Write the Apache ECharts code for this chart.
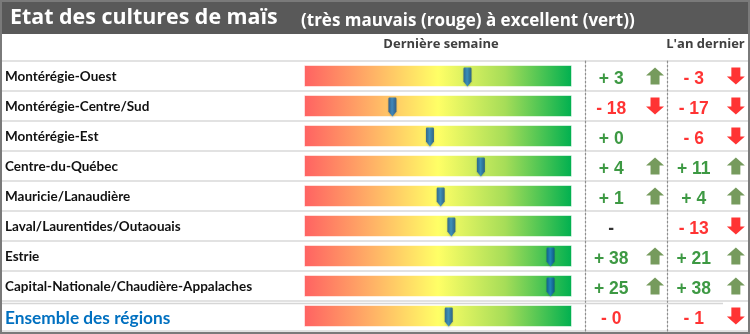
<!DOCTYPE html>
<html>
<head>
<meta charset="utf-8">
<script src="https://cdn.jsdelivr.net/npm/echarts@6/dist/echarts.min.js"></script>
<style>
  html, body { margin: 0; padding: 0; background: #ffffff; }
  #chart { width: 750px; height: 334px; }
</style>
</head>
<body>
<div id="chart"></div>
<script>
// Regions, top to bottom; the last row is the provincial total.
const regions = [
  'Montérégie-Ouest',
  'Montérégie-Centre/Sud',
  'Montérégie-Est',
  'Centre-du-Québec',
  'Mauricie/Lanaudière',
  'Laval/Laurentides/Outaouais',
  'Estrie',
  'Capital-Nationale/Chaudière-Appalaches',
  'Ensemble des régions'
];

// Crop condition index on a 0 (very poor) to 100 (excellent) scale.
const conditionIndex = [61, 33, 47, 66, 51, 55, 92, 92, 54];
const scaleMin = 0;
const scaleMax = 100;

// Change versus last week, and versus the same week last year.
const weekChange = ['+ 3', '- 18', '+ 0', '+ 4', '+ 1', '-', '+ 38', '+ 25', '- 0'];
const weekTrend  = ['up', 'down', '', 'up', 'up', '', 'up', 'up', ''];
const yearChange = ['- 3', '- 17', '- 6', '+ 11', '+ 4', '- 13', '+ 21', '+ 38', '- 1'];
const yearTrend  = ['down', 'down', 'down', 'up', 'up', 'down', 'up', 'up', 'down'];

const LABEL_FONT = 'Lato, "Open Sans", sans-serif';
const HEAD_FONT = '"Open Sans", Lato, sans-serif';
const NUM_FONT = '"Liberation Sans", Arial, sans-serif';
const GREEN_TEXT = '#0c7f14';
const RED_TEXT = '#ff0000';
const ARROW_UP = '#548235';
const ARROW_DOWN = '#ff0000';

const GRID_TOP = 61;
const GRID_HEIGHT = 270;

const ARROW_PATH = 'path://M9,0 L18,8 L13.5,8 L13.5,17 L4.5,17 L4.5,8 L0,8 Z';
const PIN_PATH = 'path://M1,0 L7,0 Q8,0 8,1.2 L8,14 L4,19 L0,14 L0,1.2 Q0,0 1,0 Z';

function changeColor(s) {
  if (s.trim() === '-') return '#000000';
  return s.charAt(0) === '+' ? GREEN_TEXT : RED_TEXT;
}

function categoryAxis(gridIndex, extra) {
  return Object.assign({
    gridIndex: gridIndex,
    type: 'category',
    data: regions,
    inverse: true,
    axisLine: { show: false },
    axisTick: { show: false },
    axisLabel: { show: false },
    splitLine: { show: false }
  }, extra || {});
}

function unitAxis(gridIndex, extra) {
  return Object.assign({
    gridIndex: gridIndex,
    type: 'value',
    min: 0,
    max: 1,
    axisLine: { show: false },
    axisTick: { show: false },
    axisLabel: { show: false },
    splitLine: { show: false }
  }, extra || {});
}

const dottedAxisLine = {
  show: true,
  lineStyle: { color: '#8f8f8f', width: 1.2, type: [2, 2] }
};

function textSeries(axisIndex, xPos, labels) {
  return {
    type: 'scatter',
    xAxisIndex: axisIndex,
    yAxisIndex: axisIndex,
    symbolSize: 1,
    itemStyle: { color: 'rgba(0,0,0,0)' },
    silent: true,
    data: labels.map((s, i) => ({
      value: [xPos, i],
      label: { color: changeColor(s) }
    })),
    label: {
      show: true,
      position: 'inside',
      offset: [0, 3],
      fontFamily: NUM_FONT,
      fontWeight: 'bold',
      fontSize: 17.5,
      formatter: (p) => labels[p.dataIndex]
    }
  };
}

function arrowSeries(axisIndex, xPos, trends) {
  const data = [];
  trends.forEach((t, i) => {
    if (!t) return;
    data.push({
      value: [xPos, i],
      symbolRotate: t === 'up' ? 0 : 180,
      itemStyle: { color: t === 'up' ? ARROW_UP : ARROW_DOWN }
    });
  });
  return {
    type: 'scatter',
    xAxisIndex: axisIndex,
    yAxisIndex: axisIndex,
    symbol: ARROW_PATH,
    symbolSize: [18, 17],
    silent: true,
    data: data
  };
}

const chart = echarts.init(document.getElementById('chart'), null, { renderer: 'canvas' });

chart.setOption({
  animation: false,
  backgroundColor: '#ffffff',
  title: [
    {
      text: 'Etat des cultures de maïs',
      left: 5,
      top: 2,
      textStyle: { color: '#ffffff', fontFamily: HEAD_FONT, fontWeight: 'bold', fontSize: 21.4 }
    },
    {
      text: '(très mauvais (rouge) à excellent (vert))',
      left: 296,
      top: 8,
      textStyle: { color: '#ffffff', fontFamily: HEAD_FONT, fontWeight: 'bold', fontSize: 17 }
    }
  ],
  graphic: [
    { type: 'rect', z: -10, shape: { x: 0, y: 0, width: 750, height: 34 }, style: { fill: '#595959' } },
    { type: 'line', z: 5, shape: { x1: 2, y1: 303.5, x2: 723, y2: 303.5 }, style: { stroke: '#d6d6d6', lineWidth: 1.5 } },
    { type: 'rect', z: 100, shape: { x: 1, y: 1, width: 748, height: 332 }, style: { fill: null, stroke: '#7a7a7a', lineWidth: 2 } }
  ],
  grid: [
    { left: 2, right: 2, top: GRID_TOP, height: GRID_HEIGHT },
    { left: 304, width: 268, top: GRID_TOP, height: GRID_HEIGHT },
    { left: 585, width: 82, top: GRID_TOP, height: GRID_HEIGHT },
    { left: 667, width: 81, top: GRID_TOP, height: GRID_HEIGHT }
  ],
  xAxis: [
    unitAxis(0),
    unitAxis(1, {
      min: scaleMin,
      max: scaleMax,
      position: 'top',
      name: 'Dernière semaine',
      nameLocation: 'middle',
      nameGap: 10,
      nameTextStyle: { color: '#404040', fontFamily: HEAD_FONT, fontWeight: 'bold', fontSize: 13, padding: [0, 0, 0, 6] }
    }),
    unitAxis(2),
    unitAxis(3, {
      position: 'top',
      name: "L'an dernier",
      nameLocation: 'middle',
      nameGap: 10,
      nameTextStyle: { color: '#404040', fontFamily: HEAD_FONT, fontWeight: 'bold', fontSize: 13, padding: [0, 4, 0, 0] }
    })
  ],
  yAxis: [
    categoryAxis(0, {
      splitLine: { show: true, lineStyle: { color: '#d9d9d9', width: 1.5 } },
      axisLabel: {
        show: true,
        align: 'left',
        margin: -3,
        formatter: (v, i) => i === regions.length - 1 ? '{total|' + v + '}' : '{row|' + v + '}',
        rich: {
          row: { color: '#111111', fontFamily: LABEL_FONT, fontWeight: 'bold', fontSize: 13.5, padding: [2, 0, 0, 0] },
          total: { color: '#0070c0', fontFamily: LABEL_FONT, fontWeight: 'bold', fontSize: 17.3, padding: [4, 0, 0, 0] }
        }
      }
    }),
    categoryAxis(1),
    categoryAxis(2, { axisLine: dottedAxisLine }),
    categoryAxis(3, { axisLine: dottedAxisLine })
  ],
  series: [
    {
      // red-to-green scale behind each region's marker
      type: 'bar',
      xAxisIndex: 1,
      yAxisIndex: 1,
      barWidth: 22,
      silent: true,
      data: regions.map(() => scaleMax),
      itemStyle: {
        color: new echarts.graphic.LinearGradient(0, 0, 1, 0, [
          { offset: 0, color: '#ff6262' },
          { offset: 0.25, color: '#ffb066' },
          { offset: 0.5, color: '#ffff66' },
          { offset: 0.75, color: '#a6dd58' },
          { offset: 1, color: '#00b050' }
        ]),
        borderColor: 'rgba(255,255,255,0.55)',
        borderWidth: 1
      }
    },
    {
      // current condition marker
      type: 'scatter',
      xAxisIndex: 1,
      yAxisIndex: 1,
      symbol: PIN_PATH,
      symbolSize: [8, 19],
      symbolOffset: [0, 1],
      silent: true,
      z: 5,
      data: conditionIndex.map((v, i) => [v, i]),
      itemStyle: {
        color: new echarts.graphic.LinearGradient(0, 0, 1, 0, [
          { offset: 0, color: '#0a4f98' },
          { offset: 0.45, color: '#1c82d4' },
          { offset: 1, color: '#0a4a8f' }
        ]),
        shadowColor: 'rgba(0,0,0,0.25)',
        shadowBlur: 2,
        shadowOffsetY: 1
      }
    },
    textSeries(2, 0.32, weekChange),
    arrowSeries(2, 0.854, weekTrend),
    textSeries(3, 0.33, yearChange),
    arrowSeries(3, 0.85, yearTrend)
  ]
});
</script>
</body>
</html>
